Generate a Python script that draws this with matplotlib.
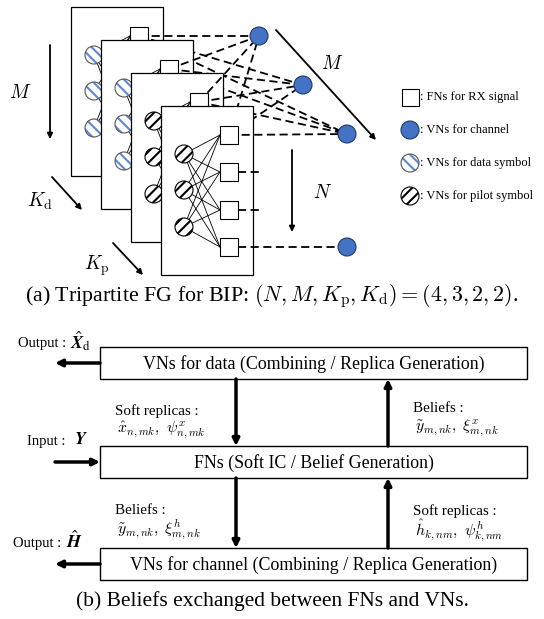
import matplotlib
matplotlib.use('Agg')
import matplotlib.pyplot as plt
from matplotlib.patches import Rectangle, Circle

# ---- content ----
N, M, K_p, K_d = 4, 3, 2, 2
panel_kinds = ['data', 'data', 'pilot', 'pilot']          # back -> front (K_d data, K_p pilot)
legend_labels = [': FNs for RX signal', ': VNs for channel',
                 ': VNs for data symbol', ': VNs for pilot symbol']
box_labels = ['VNs for data (Combining / Replica Generation)',
              'FNs (Soft IC / Belief Generation)',
              'VNs for channel (Combining / Replica Generation)']
caption_a = r'(a) Tripartite FG for BIP: $(N, M, K_{\mathrm{p}}, K_{\mathrm{d}}) = (4, 3, 2, 2)$.'
caption_b = '(b) Beliefs exchanged between FNs and VNs.'
msg_upper_left = ['Soft replicas :', r'$\hat{x}_{n,mk},\ \psi^{x}_{n,mk}$']
msg_upper_right = ['Beliefs :', r'$\tilde{y}_{m,nk},\ \xi^{x}_{m,nk}$']
msg_lower_left = ['Beliefs :', r'$\tilde{y}_{m,nk},\ \xi^{h}_{m,nk}$']
msg_lower_right = ['Soft replicas :', r'$\hat{h}_{k,nm},\ \psi^{h}_{k,nm}$']
io_labels = [('Output :', r'$\hat{\mathbfit{X}}_{\mathrm{d}}$'),
             ('Input :', r'$\mathbfit{Y}$'),
             ('Output :', r'$\hat{\mathbfit{H}}$')]

plt.rcParams['font.family'] = ['Liberation Serif', 'DejaVu Serif']
plt.rcParams['mathtext.fontset'] = 'cm'
plt.rcParams['hatch.linewidth'] = 1.5

fig = plt.figure(figsize=(5.44, 6.19), dpi=100)
ax = fig.add_axes([0, 0, 1, 1])
ax.set_xlim(0, 544)
ax.set_ylim(619, 0)
ax.axis('off')

BLUE = '#4472C4'
HATCH_BLUE = '#5B88D6'

def arrow(p0, p1, lw=1.3, ms=8, z=50):
    ax.annotate('', xy=p1, xytext=p0,
                arrowprops=dict(arrowstyle='-|>', lw=lw, color='k',
                                mutation_scale=ms, shrinkA=0, shrinkB=0),
                zorder=z)

def hatched_circle(c, r, kind, z):
    if kind == 'data':
        ax.add_patch(Circle(c, r, facecolor='white', edgecolor=HATCH_BLUE,
                            hatch='\\\\\\', lw=0, zorder=z))
        ax.add_patch(Circle(c, r, fill=False, edgecolor='#555555', lw=0.8, zorder=z + 0.1))
    else:
        ax.add_patch(Circle(c, r, facecolor='white', edgecolor='black',
                            hatch='///', lw=0, zorder=z))
        ax.add_patch(Circle(c, r, fill=False, edgecolor='black', lw=0.8, zorder=z + 0.1))

# ---- (a) tripartite factor graph ----
PX0, PY0, PDX, PDY, PW, PH = 71, 7, 30, 33, 92, 169
circ_dx, circ_dy, cr = 23, [48, 84, 121], 9
sq_dx, sq_dy, ss = 68, [29, 66, 104, 141], 18
ch_nodes = [(259, 36), (303, 85), (347, 134)]
ch_bottom = (347, 247)
dash = dict(color='k', lw=1.3, linestyle=(0, (4.5, 2.5)))

for k, kind in enumerate(panel_kinds):
    x0, y0 = PX0 + k * PDX, PY0 + k * PDY
    zb = 10 * (k + 1)
    ax.add_patch(Rectangle((x0, y0), PW, PH, facecolor='white', edgecolor='k', lw=0.9, zorder=zb))
    circles = [(x0 + circ_dx, y0 + d) for d in circ_dy]
    squares = [(x0 + sq_dx, y0 + d) for d in sq_dy]
    for c in circles:
        for s in squares:
            ax.plot([c[0], s[0] - ss / 2], [c[1], s[1]], color='k', lw=0.6, zorder=zb + 1)
    for c in circles:
        hatched_circle(c, cr, kind, zb + 3)
    for s in squares:
        ax.add_patch(Rectangle((s[0] - ss / 2, s[1] - ss / 2), ss, ss, facecolor='white',
                               edgecolor='k', lw=0.8, zorder=zb + 5))
    top = squares[0]
    front = (k == len(panel_kinds) - 1)
    for ch in ch_nodes:
        zl = zb - 0.5 if (front and ch != ch_nodes[-1]) else zb + 4
        ax.plot([top[0], ch[0]], [top[1], ch[1]], zorder=zl, **dash)
    if front:
        for s in squares[1:3]:
            ax.plot([s[0] + ss / 2, s[0] + ss / 2 + 25], [s[1], s[1]], zorder=zb + 4, **dash)
        ax.plot([squares[-1][0] + ss / 2, ch_bottom[0]], [squares[-1][1], ch_bottom[1]],
                zorder=zb + 4, **dash)

for ch in ch_nodes + [ch_bottom]:
    ax.add_patch(Circle(ch, 9, facecolor=BLUE, edgecolor='#1F3A6B', lw=0.8, zorder=100))

# dimension arrows
arrow((50, 45), (50, 139))
ax.text(20, 93, r'$M$', fontsize=14, ha='center', va='center')
arrow((52, 177), (82, 210))
ax.text(40, 201, r'$K_{\mathrm{d}}$', fontsize=14, ha='center', va='center')
arrow((113, 243), (143, 275))
ax.text(97, 266, r'$K_{\mathrm{p}}$', fontsize=14, ha='center', va='center')
arrow((292, 150), (292, 232))
ax.text(323, 193, r'$N$', fontsize=14, ha='center', va='center')
arrow((276, 30), (376, 140))
ax.text(332, 64, r'$M$', fontsize=14, ha='center', va='center')

# legend
lx, ltx = 410, 420
ly = [97, 130, 163, 196]
ax.add_patch(Rectangle((lx - 8.5, ly[0] - 8.5), 17, 17, facecolor='white', edgecolor='k', lw=0.8, zorder=60))
ax.add_patch(Circle((lx, ly[1]), 9, facecolor=BLUE, edgecolor='#1F3A6B', lw=0.8, zorder=60))
hatched_circle((lx, ly[2]), 9, 'data', 60)
hatched_circle((lx, ly[3]), 9, 'pilot', 60)
for y, lab in zip(ly, legend_labels):
    ax.text(ltx, y, lab, fontsize=9.0, ha='left', va='center')

ax.text(272, 296, caption_a, fontsize=15.8, ha='center', va='center')

# ---- (b) message passing diagram ----
BX0, BX1, BH = 100, 527, 32
box_y = [347, 446, 548]
for y, lab in zip(box_y, box_labels):
    ax.add_patch(Rectangle((BX0, y), BX1 - BX0, BH, facecolor='white', edgecolor='k', lw=1.0, zorder=5))
    ax.text((BX0 + BX1) / 2, y + BH / 2 + 1, lab, fontsize=12.9, ha='center', va='center', zorder=6)

AXL, AXR = 236, 388
for i in range(2):
    arrow((AXL, box_y[i] + BH), (AXL, box_y[i + 1]), lw=2.5, ms=10)
    arrow((AXR, box_y[i + 1]), (AXR, box_y[i] + BH), lw=2.5, ms=10)

arrow((BX0, box_y[0] + BH / 2), (55, box_y[0] + BH / 2), lw=2.5, ms=10)
arrow((55, box_y[1] + BH / 2), (BX0, box_y[1] + BH / 2), lw=2.5, ms=10)
arrow((BX0, box_y[2] + BH / 2), (55, box_y[2] + BH / 2), lw=2.5, ms=10)

for (txt, m), (x, y, mx) in zip(io_labels, [(18, 343, 70), (27, 441, 74), (13, 543, 66)]):
    ax.text(x, y, txt, fontsize=10.5, ha='left', va='center')
    ax.text(mx, y - 2, m, fontsize=13, ha='left', va='center', math_fontfamily='stix')

for (lab, m), (x, y) in [(msg_upper_left, (115, 411)), (msg_upper_right, (413, 409)),
                         (msg_lower_left, (115, 511)), (msg_lower_right, (413, 511))]:
    ax.text(x, y, lab, fontsize=10.8, ha='left', va='center')
    ax.text(x + 2, y + 19, m, fontsize=11.3, ha='left', va='center')

ax.text(272, 601, caption_b, fontsize=15.5, ha='center', va='center')

fig.savefig('out.png', dpi=100)
